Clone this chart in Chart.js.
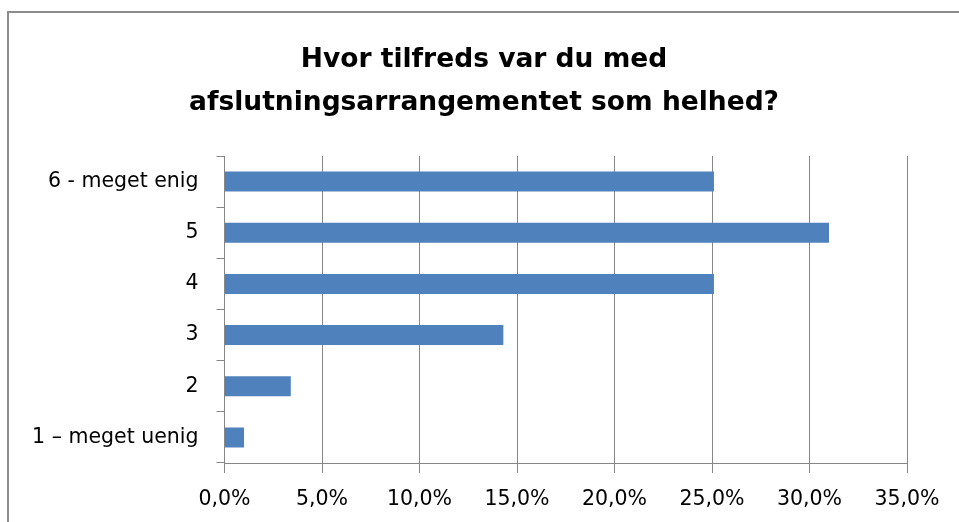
<!DOCTYPE html>
<html>
<head>
<meta charset="utf-8">
<script src="https://cdn.jsdelivr.net/npm/chart.js@4"></script>
<style>
  html, body { margin: 0; padding: 0; background: #fff; }
  #wrap { position: relative; width: 959px; height: 522px; overflow: hidden; }
  #frame { position: absolute; left: 7px; top: 11px; width: 1000px; height: 600px;
           border-left: 2px solid #8c8c8c; border-top: 2px solid #8c8c8c; box-sizing: border-box; }
  canvas { position: absolute; left: 0; top: 0; }
</style>
</head>
<body>
<div id="wrap">
  <div id="frame"></div>
  <canvas id="c" width="959" height="522"></canvas>
</div>
<script>
const titleLines = ["Hvor tilfreds var du med", "afslutningsarrangementet som helhed?"];
const categories = ["6 - meget enig", "5", "4", "3", "2", "1 \u2013 meget uenig"];
const percentValues = [25.1, 31.0, 25.1, 14.3, 3.4, 1.0];
const axisMin = 0;
const axisMax = 35;
const axisStep = 5;

const fontFamily = "'DejaVu Sans', sans-serif";

const centeredTitle = {
  id: 'centeredTitle',
  afterDraw(chart, args, opts) {
    const ctx = chart.ctx;
    ctx.save();
    ctx.fillStyle = '#000';
    ctx.font = 'bold ' + opts.size + 'px ' + fontFamily;
    ctx.textAlign = 'center';
    ctx.textBaseline = 'alphabetic';
    opts.lines.forEach((line, i) => {
      ctx.fillText(line, opts.x, opts.baselines[i]);
    });
    ctx.restore();
  }
};

new Chart(document.getElementById('c'), {
  type: 'bar',
  data: {
    labels: categories,
    datasets: [{
      data: percentValues,
      backgroundColor: '#4F81BD',
      borderWidth: 0,
      barPercentage: 0.39,
      categoryPercentage: 1.0
    }]
  },
  plugins: [centeredTitle],
  options: {
    indexAxis: 'y',
    responsive: false,
    animation: false,
    layout: { padding: { left: 0, right: 52, top: 156, bottom: 0 } },
    plugins: {
      legend: { display: false },
      tooltip: { enabled: false },
      title: { display: false },
      centeredTitle: { lines: titleLines, size: 26.5, x: 484, baselines: [67, 110] }
    },
    scales: {
      x: {
        min: axisMin,
        max: axisMax,
        border: { display: true, color: '#868686', width: 1 },
        grid: { color: '#868686', lineWidth: 1, tickLength: 10, drawTicks: true },
        ticks: {
          stepSize: axisStep,
          color: '#000',
          padding: 14,
          font: { family: fontFamily, size: 20.5 },
          callback: v => v.toFixed(1).replace('.', ',') + '%'
        },
        afterFit: s => { s.height = 59; }
      },
      y: {
        border: { display: true, color: '#868686', width: 1 },
        grid: { offset: true, drawOnChartArea: false, color: '#868686', tickLength: 8 },
        ticks: {
          color: '#000',
          padding: 18,
          font: { family: fontFamily, size: 20.5 }
        },
        afterFit: s => { s.width = 224.5; }
      }
    }
  }
});
</script>
</body>
</html>
